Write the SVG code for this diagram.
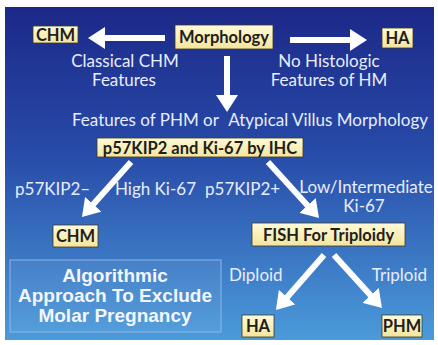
<svg xmlns="http://www.w3.org/2000/svg" width="438" height="345" viewBox="0 0 438 345">
<defs>
<linearGradient id="bg" x1="0" y1="0" x2="0" y2="1">
<stop offset="0" stop-color="#1c2888"/>
<stop offset="0.45" stop-color="#284ca9"/>
<stop offset="1" stop-color="#4b9bda"/>
</linearGradient>
<linearGradient id="bx" x1="0" y1="0" x2="0" y2="1">
<stop offset="0" stop-color="#fffbd8"/>
<stop offset="1" stop-color="#f4e49c"/>
</linearGradient>
<marker id="ah" viewBox="0 0 17 22" refX="6" refY="11" markerWidth="17" markerHeight="22" markerUnits="userSpaceOnUse" orient="auto">
<path d="M0,0 L17,11 L0,22 z" fill="#ffffff"/>
</marker>
</defs>
<style>
.box{fill:url(#bx);stroke:#3a3a2a;stroke-width:0.8}
.bt{font-family:Lato,"Open Sans",sans-serif;font-weight:bold;font-size:16.5px;fill:#1e1e1e;text-anchor:middle}
.wt{font-family:Lato,"Open Sans",sans-serif;font-size:17px;fill:#e8edff;text-anchor:middle}
.st{text-anchor:start}
.en{text-anchor:end}
.ar{stroke:#ffffff;stroke-width:6;fill:none;marker-end:url(#ah)}
.alg{font-family:"Liberation Sans",Arial,sans-serif;font-weight:bold;font-size:19px;fill:#f4f6ff;text-anchor:middle}
</style>
<rect x="0" y="0" width="438" height="345" fill="#ffffff"/>
<rect x="5" y="7" width="429" height="333" fill="url(#bg)"/>

<g id="connectors">
<line class="ar" x1="165" y1="38" x2="99" y2="38"/>
<line class="ar" x1="290" y1="40" x2="356" y2="40"/>
<line class="ar" x1="227" y1="56" x2="227" y2="101"/>
<line class="ar" x1="131" y1="162" x2="89.3" y2="208.8"/>
<line class="ar" x1="268" y1="162" x2="311.6" y2="209.9"/>
<line class="ar" x1="324" y1="255" x2="283.2" y2="301.7"/>
<line class="ar" x1="334" y1="255" x2="374.6" y2="299.8"/>
</g>

<g id="labels">
<text class="wt" x="125" y="67">Classical CHM</text>
<text class="wt" x="124" y="86">Features</text>
<text class="wt" x="329" y="67">No Histologic</text>
<text class="wt" x="329" y="86">Features of HM</text>
<text class="wt st" x="72" y="126">Features of PHM or</text>
<text class="wt en" x="428" y="126">Atypical Villus Morphology</text>
<text class="wt st" x="15" y="195">p57KIP2–</text>
<text class="wt st" x="115" y="195">High Ki-67</text>
<text class="wt st" x="205" y="195">p57KIP2+</text>
<text class="wt" x="366" y="193">Low/Intermediate</text>
<text class="wt" x="364" y="212">Ki-67</text>
<text class="wt st" x="229" y="281">Diploid</text>
<text class="wt en" x="427" y="281">Triploid</text>
</g>

<g id="chm-top"><rect class="box" x="33" y="26" width="45" height="17"/><text class="bt" x="55.5" y="40.5">CHM</text></g>
<g id="morphology"><rect class="box" x="175" y="25" width="98" height="24"/><text class="bt" x="224" y="43">Morphology</text></g>
<g id="ha-top"><rect class="box" x="382" y="28" width="31" height="20"/><text class="bt" x="397.5" y="44">HA</text></g>
<g id="ihc"><rect class="box" x="97" y="138" width="206" height="19"/><text class="bt" x="200" y="153.5">p57KIP2 and Ki-67 by IHC</text></g>
<g id="chm-bottom"><rect class="box" x="53" y="225" width="45" height="22"/><text class="bt" x="75.5" y="242">CHM</text></g>
<g id="fish"><rect class="box" x="252" y="223" width="153" height="23"/><text class="bt" x="328.5" y="240.5">FISH For Triploidy</text></g>
<g id="ha-bottom"><rect class="box" x="242" y="315" width="32" height="22"/><text class="bt" x="258" y="332">HA</text></g>
<g id="phm"><rect class="box" x="382" y="315" width="40" height="22"/><text class="bt" x="402" y="332">PHM</text></g>

<g id="title">
<rect x="10" y="260" width="211" height="72" fill="#ffffff" fill-opacity="0.06" stroke="#8fb6e6" stroke-width="1"/>
<text class="alg" x="115" y="282">Algorithmic</text>
<text class="alg" x="115" y="302">Approach To Exclude</text>
<text class="alg" x="115" y="322">Molar Pregnancy</text>
</g>
</svg>
